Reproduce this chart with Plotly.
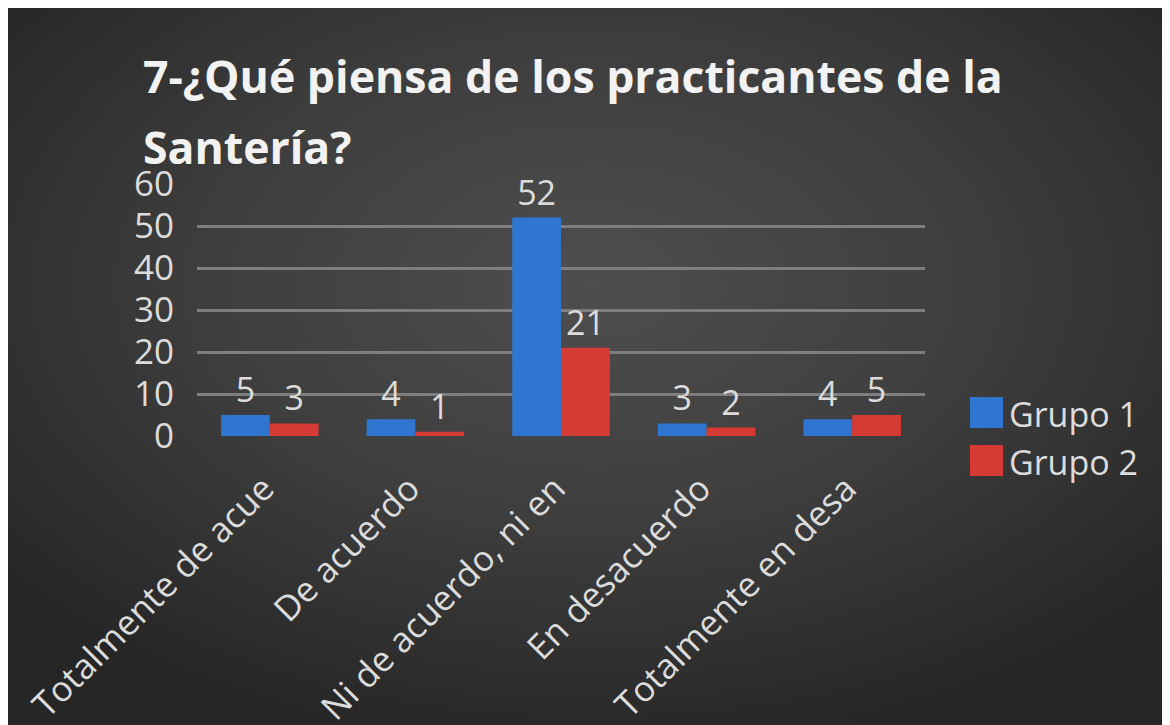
import base64
import plotly.graph_objects as go

categories = ["Totalmente de acue", "De acuerdo", "Ni de acuerdo, ni en",
              "En desacuerdo", "Totalmente en desa"]
grupo1 = [5, 4, 52, 3, 4]
grupo2 = [3, 1, 21, 2, 5]
series_names = ["Grupo 1", "Grupo 2"]
y_ticks = [0, 10, 20, 30, 40, 50, 60]
title_line1 = "7-¿Qué piensa de los practicantes de la"
title_line2 = "Santería?"

W, H = 1170, 725
OFF = 8  # page body margin offset
BLUE = "#2e76d0"
RED = "#d63a35"
COLORS = [BLUE, RED]
TXT = "#dcdcdc"
FONT = "Open Sans"


def px(x):
    return (x - OFF) / W


def py(y):
    return 1 - (y - OFF) / H


svg = ('<svg xmlns="http://www.w3.org/2000/svg" width="100" height="100" viewBox="0 0 100 100" '
       'preserveAspectRatio="none"><defs><radialGradient id="g" cx="50%" cy="38%" r="65%">'
       '<stop offset="0%" stop-color="#4e4e4e"/><stop offset="50%" stop-color="#3e3e3e"/>'
       '<stop offset="100%" stop-color="#262626"/></radialGradient></defs>'
       '<rect width="100" height="100" fill="url(#g)"/></svg>')
src = "data:image/svg+xml;base64," + base64.b64encode(svg.encode()).decode()

fig = go.Figure()
for name, vals, col in [(series_names[0], grupo1, BLUE), (series_names[1], grupo2, RED)]:
    fig.add_trace(go.Bar(
        x=categories, y=vals, name=name, marker=dict(color=col, line=dict(width=0)),
        text=[str(v) for v in vals], textposition="outside", cliponaxis=False,
        textfont=dict(family=FONT, size=34, color=TXT), showlegend=False,
    ))

# legend drawn as swatches + labels
shapes = []
legend_ann = []
sw_top = [397, 445]
for i, name in enumerate(series_names):
    shapes.append(dict(type="rect", xref="paper", yref="paper",
                       x0=px(970), x1=px(1003), y0=py(sw_top[i] + 31), y1=py(sw_top[i]),
                       fillcolor=COLORS[i], line=dict(width=0), layer="above"))
    legend_ann.append(dict(text=name, xref="paper", yref="paper",
                           x=px(1007), y=py(sw_top[i] + 17), xanchor="left", yanchor="middle",
                           showarrow=False, font=dict(family=FONT, size=34, color=TXT)))

fig.update_layout(
    template="none",
    width=W, height=H,
    margin=dict(l=0, r=0, t=0, b=0, pad=0),
    paper_bgcolor="#2a2a2a",
    plot_bgcolor="rgba(0,0,0,0)",
    showlegend=False,
    barmode="group", bargap=0.33, bargroupgap=0,
    font=dict(family=FONT, color=TXT),
    xaxis=dict(domain=[px(197), px(925)], tickangle=-45, showgrid=False, showline=False,
               zeroline=False, automargin=False,
               ticks="", tickfont=dict(family=FONT, size=35, color=TXT),
               ticklabelshift=-6, ticklabelstandoff=24),
    yaxis=dict(domain=[py(436), py(184)], range=[0, 60], tickvals=y_ticks, automargin=False,
               showgrid=True, gridcolor="#7e7e7e", gridwidth=2.5,
               zeroline=True, zerolinecolor="rgba(0,0,0,0)",
               showline=False, ticks="", ticklabelstandoff=22,
               tickfont=dict(family=FONT, size=35, color=TXT)),
    images=[dict(source=src, xref="paper", yref="paper", x=0, y=1,
                 sizex=1, sizey=1, xanchor="left", yanchor="top",
                 sizing="stretch", layer="below")],
    shapes=shapes,
    annotations=[
        dict(text="<b>" + title_line1 + "</b>", xref="paper", yref="paper",
             x=px(141), y=py(108), xanchor="left", yanchor="bottom", showarrow=False,
             font=dict(family=FONT, size=44.6, color="#f2f2f2")),
        dict(text="<b>" + title_line2 + "</b>", xref="paper", yref="paper",
             x=px(141), y=py(179), xanchor="left", yanchor="bottom", showarrow=False,
             font=dict(family=FONT, size=44.6, color="#f2f2f2")),
    ] + legend_ann,
)

fig.write_html("out.html")
